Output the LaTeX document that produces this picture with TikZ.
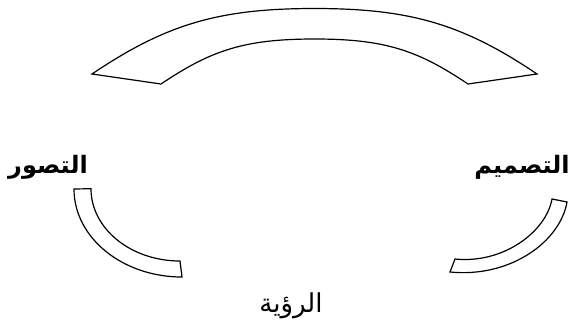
\documentclass[tikz,border=0pt]{standalone}
\usepackage{fontspec}
\TeXXeTstate=1
\newfontfamily\arabicfont[Script=Arabic]{DejaVu Sans}
\begin{document}
\begin{tikzpicture}[x=1pt,y=-1pt,
  band/.style={draw=black,line width=1.2pt,fill=white,line join=miter},
  lbl/.style={font=\arabicfont\fontsize{24}{26}\selectfont\bfseries,inner sep=0pt},
  lblr/.style={font=\arabicfont\fontsize{26}{28}\selectfont,inner sep=0pt}]
\useasboundingbox (0,0) rectangle (572,333);
% top arch
\draw[band] (92,74) .. controls (166.7,23.6) and (220,8.5) .. (314.5,8.5)
  .. controls (409,8.5) and (462.3,23.6) .. (537,74)
  -- (468,84) .. controls (418,50.4) and (385,39) .. (314.5,39)
  .. controls (244,39) and (211,50.4) .. (161,84) -- cycle;
% left lower arc
\draw[band] (74,189) -- (91,188.7)
  .. controls (91,228.7) and (130.9,261) .. (180,261)
  -- (182,277)
  .. controls (122.4,277) and (74,237.6) .. (74,189) -- cycle;
% right lower arc
\draw[band] (552,199) -- (567,202)
  .. controls (560,242) and (510,278) .. (450,272)
  -- (455,259)
  .. controls (503,264) and (546,232) .. (552,199) -- cycle;
% labels
\node[lbl] (tasawwur) at (48,167) {\beginR التصور\endR};
\node[lbl] (tasmim) at (522,167) {\beginR التصميم\endR};
\node[lblr] (ruya) at (291,306) {\beginR الرؤية\endR};
\end{tikzpicture}
\end{document}
